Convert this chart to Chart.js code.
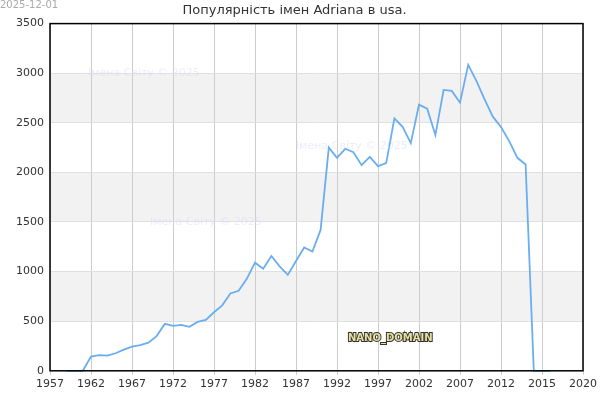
<!DOCTYPE html>
<html><head><meta charset="utf-8">
<script src="https://cdn.jsdelivr.net/npm/chart.js@4"></script>
<style>body{margin:0;background:#fff}#w{position:relative;width:600px;height:400px}</style>
</head><body><div id="w"><canvas id="c" width="600" height="400"></canvas></div>
<script>
const years = [1959,1960,1961,1962,1963,1964,1965,1966,1967,1968,1969,1970,1971,1972,1973,1974,1975,1976,1977,1978,1979,1980,1981,1982,1983,1984,1985,1986,1987,1988,1989,1990,1991,1992,1993,1994,1995,1996,1997,1998,1999,2000,2001,2002,2003,2004,2005,2006,2007,2008,2009,2010,2011,2012,2013,2014,2015,2016,2017,2018];
const counts = [0,0,0,143,157,153,177,213,243,260,283,350,473,453,463,443,493,513,590,660,780,807,927,1090,1030,1157,1053,967,1107,1243,1203,1420,2250,2147,2238,2204,2073,2157,2063,2093,2545,2460,2295,2683,2642,2376,2831,2821,2703,3084,2922,2737,2562,2457,2315,2147,2080,0,0,0];
const xTickLabels = ['1957','1962','1967','1972','1977','1982','1987','1992','1997','2002','2007','2012','2015','2020'];
const yTicks = [0,500,1000,1500,2000,2500,3000,3500];

const bands = {id:'bands',beforeDraw(ch){const {ctx,chartArea:a,scales:{y}}=ch;ctx.save();ctx.fillStyle='#f2f2f2';
 for(let v=500;v<3500;v+=1000){const t=y.getPixelForValue(v+500),b=y.getPixelForValue(v);ctx.fillRect(a.left,t,a.right-a.left,b-t);}ctx.restore();},
 afterDraw(ch){const {ctx,chartArea:a}=ch;ctx.save();ctx.strokeStyle='#000';ctx.lineWidth=1.5;ctx.strokeRect(a.left,a.top,a.right-a.left,a.bottom-a.top);
 ctx.font='10px DejaVu Sans';ctx.fillStyle='#aaa';ctx.fillText('2025-12-01',0,8);
 ctx.font='11px DejaVu Sans';ctx.fillStyle='rgba(220,220,245,0.5)';ctx.fillText('Імена Світу © 2025',88,76);ctx.fillText('Імена Світу © 2025',296,149);ctx.fillText('Імена Світу © 2025',150,225);
 ctx.font='bold 10px DejaVu Sans';ctx.lineWidth=2;ctx.strokeStyle='#333';ctx.strokeText('NANO_DOMAIN',348,341);ctx.fillStyle='#e8e0a0';ctx.fillText('NANO_DOMAIN',348,341);
 ctx.restore();}};

new Chart(document.getElementById('c'),{type:'line',
 data:{datasets:[{data:years.map((x,i)=>({x,y:counts[i]})),borderColor:'#6aaef0',borderWidth:1.8,pointRadius:0,tension:0,fill:false,clip:false}]},
 options:{responsive:false,animation:false,
  layout:{padding:{top:2,right:11,left:0,bottom:6}},
  plugins:{legend:{display:false},tooltip:{enabled:false},
   title:{display:true,text:'Популярність імен Adriana в usa.',color:'#333',font:{family:'DejaVu Sans',size:13,weight:'normal'},padding:{top:1,bottom:5}}},
  scales:{
   x:{type:'linear',min:1957,max:2022,
    afterBuildTicks(s){s.ticks=xTickLabels.map((l,i)=>({value:1957+5*i}));},
    ticks:{autoSkip:false,maxRotation:0,color:'#333',font:{family:'DejaVu Sans',size:11},callback:(v,i)=>xTickLabels[i]},
    grid:{color:'#ccc',drawTicks:true,tickLength:4},border:{display:false}},
   y:{min:0,max:3500,afterBuildTicks(s){s.ticks=yTicks.map(v=>({value:v}));},afterFit(s){s.width=50;},
    ticks:{color:'#333',font:{family:'DejaVu Sans',size:11},padding:6,callback:v=>String(v)},
    grid:{color:'#e0e0e0',drawTicks:false},border:{display:false}}}},
 plugins:[bands]});
</script></body></html>
